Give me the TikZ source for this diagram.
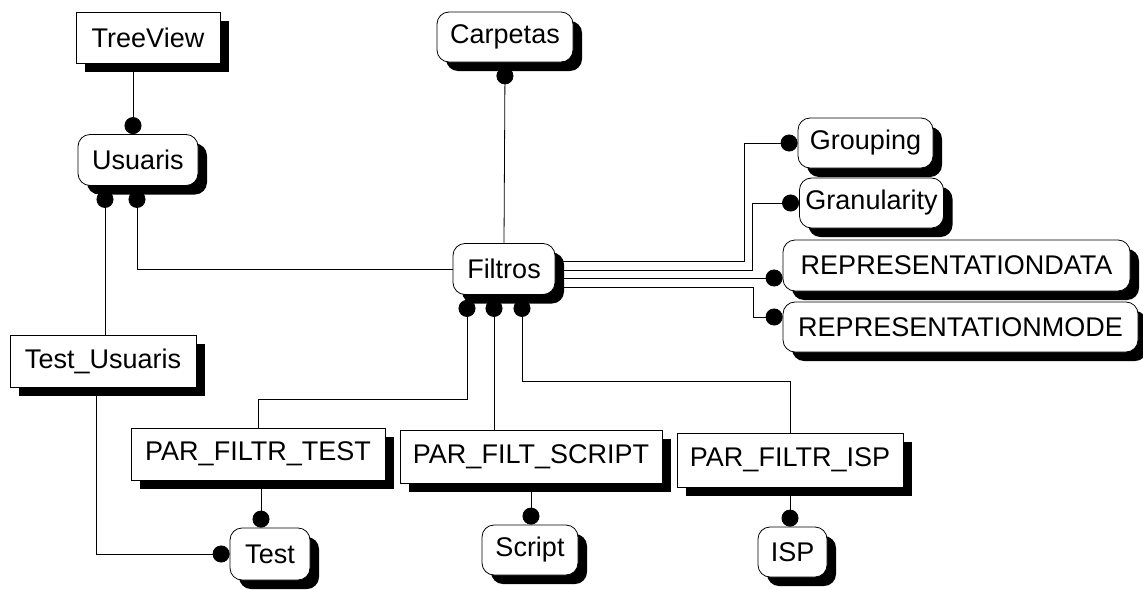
\documentclass[tikz,border=0pt]{standalone}
\usepackage{fontspec}
\setmainfont{Liberation Sans}
\usetikzlibrary{arrows.meta, shadows, backgrounds}

\tikzset{
  entbox/.style = {draw, fill=white, line width=.8pt, minimum height=51pt, inner xsep=6pt,
    font=\fontsize{27}{30}\selectfont,
    drop shadow={shadow xshift=9pt, shadow yshift=-9pt, fill=black, opacity=1}},
  depbox/.style = {entbox, rounded corners=12pt},
  rel/.style = {line width=.8pt},
  dotend/.style = {rel, -{Circle[length=17pt]}},
  dotstart/.style = {rel, {Circle[length=17pt]}-},
}

\begin{document}
\begin{tikzpicture}[x=1pt, y=-1pt]

    \useasboundingbox (0,0) rectangle (1143,589);

    % entities
    \node [entbox, minimum width=144pt] (TreeView) at (148,37.5) {TreeView};
    \node [depbox, minimum width=120pt] (Usuaris) at (138,160) {Usuaris};
    \node [depbox, minimum width=136pt, minimum height=50pt] (Carpetas) at (505,37) {Carpetas};
    \node [depbox, minimum width=102pt] (Filtros) at (504,269) {Filtros};
    \node [depbox, minimum width=135pt, minimum height=50pt] (Grouping) at (865.5,143) {Grouping};
    \node [depbox, minimum width=143pt, minimum height=50pt] (Granularity) at (871.5,203) {Granularity};
    \node [depbox, minimum width=347pt] (RepData) at (956.5,265.5) {REPRESENTATIONDATA};
    \node [depbox, minimum width=355pt, minimum height=50pt] (RepMode) at (960.5,327) {REPRESENTATIONMODE};
    \node [entbox, minimum width=186pt, minimum height=52pt] (TestUsuaris) at (103,361) {Test\_Usuaris};
    \node [entbox, minimum width=254pt, minimum height=52pt] (ParTest) at (258,454) {PAR\_FILTR\_TEST};
    \node [entbox, minimum width=262pt, minimum height=53pt] (ParScript) at (531,456.5) {PAR\_FILT\_SCRIPT};
    \node [entbox, minimum width=226pt, minimum height=54pt] (ParIsp) at (790,460) {PAR\_FILTR\_ISP};
    \node [depbox, minimum width=80pt, minimum height=52pt] (Test) at (270,554) {Test};
    \node [depbox, minimum width=96pt, minimum height=50pt] (Script) at (530,550) {Script};
    \node [depbox, minimum width=69pt, minimum height=50pt] (Isp) at (792.5,552) {ISP};

    % relationships
    \begin{scope}[on background layer]
      \draw [dotend] ([xshift=-5pt]TreeView.south -| Usuaris.north) -- ([xshift=-5pt]Usuaris.north);

      \coordinate (u1) at ([xshift=-33pt, yshift=-5pt]Usuaris.south);
      \coordinate (u2) at ([xshift=-1pt, yshift=-5pt]Usuaris.south);
      \draw [dotstart] (u1) -- (u1 |- TestUsuaris.north);
      \draw [dotstart] (u2) |- (Filtros.west);

      \draw [dotstart] ([yshift=-5pt]Carpetas.south) -- (Filtros.north);

      \draw [dotend] ([yshift=8pt]Filtros.east) -- ++(189,0) |- (Grouping.west);
      \draw [dotend] ([yshift=-1pt]Filtros.east) -- ++(197,0) |- (Granularity.west);
      \draw [dotend] ([yshift=-9pt]Filtros.east) -- ([yshift=-9pt]Filtros.east -| RepData.west);
      \draw [dotend] ([yshift=-18pt]Filtros.east) -- ++(198,0) |- ([yshift=10pt]RepMode.west);

      \coordinate (f1) at ([xshift=-37pt, yshift=-5pt]Filtros.south);
      \coordinate (f2) at ([xshift=-10pt, yshift=-5pt]Filtros.south);
      \coordinate (f3) at ([xshift=18pt, yshift=-5pt]Filtros.south);
      \draw [dotstart] (f1) -- (f1 |- 0,399) -| (ParTest.north);
      \draw [dotstart] (f2) -- (f2 |- ParScript.north);
      \draw [dotstart] (f3) -- (f3 |- 0,381) -| (ParIsp.north);

      \draw [dotend] ([xshift=-7pt]TestUsuaris.south) |- (Test.west);
      \draw [dotend] ([xshift=3pt]ParTest.south) -- ([xshift=3pt]ParTest.south |- Test.north);
      \draw [dotend] (ParScript.south) -- (ParScript.south |- Script.north);
      \draw [dotend] (ParIsp.south) -- (ParIsp.south |- Isp.north);
    \end{scope}

\end{tikzpicture}
\end{document}
